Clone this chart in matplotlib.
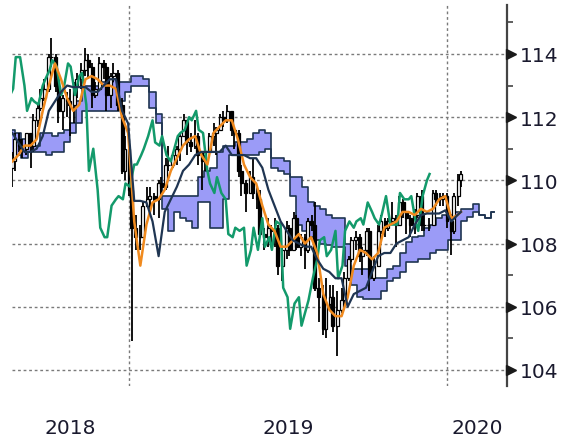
import numpy as np
import pandas as pd
import matplotlib.pyplot as plt
import matplotlib.dates as mdates

# USD/JPY, one candle every 3rd business day from 2018-08-20
close = [110.6, 111.3, 111.1, 111.0, 111.5, 111.1, 111.9, 112.3, 112.6, 112.9,
         113.9, 113.9, 113.0, 112.2, 112.6, 112.5, 112.4, 113.0, 113.2, 113.5,
         113.8, 113.6, 112.7, 112.9, 113.7, 113.6, 112.7, 113.3, 113.4, 112.4,
         110.3, 111.0, 109.7, 108.5, 108.2, 108.2, 109.2, 109.4, 109.5, 109.4,
         109.9, 109.8, 110.5, 110.5, 110.8, 111.0, 111.4, 111.9, 111.2, 111.1,
         111.4, 110.8, 110.6, 110.9, 111.4, 111.5, 111.6, 112.0, 111.9, 112.2,
         111.6, 111.5, 110.3, 109.9, 109.6, 110.1, 109.6, 109.4, 108.3, 108.2,
         108.5, 108.4, 108.5, 107.3, 107.8, 108.5, 107.8, 108.8, 107.9, 108.2,
         107.8, 108.7, 108.6, 106.6, 106.3, 105.3, 106.1, 106.3, 105.4, 105.9,
         106.2, 106.9, 107.5, 108.1, 108.2, 107.6, 107.8, 108.4, 106.9, 107.3,
         108.4, 108.7, 108.5, 108.7, 108.8, 108.6, 109.3, 109.0, 108.8, 108.6,
         108.9, 109.5, 108.6, 108.6, 108.6, 109.6, 109.4, 109.4, 109.5, 108.7,
         108.4, 109.5, 110.0, 110.2]
high = [110.9, 111.5, 111.5, 111.3, 111.5, 111.3, 112.1, 112.4, 112.9, 113.2,
        114.0, 114.5, 114.0, 113.2, 112.7, 112.8, 112.9, 113.1, 113.4, 113.7,
        114.2, 114.0, 113.7, 113.1, 113.9, 113.8, 113.7, 113.4, 113.7, 113.5,
        112.6, 111.4, 111.2, 110.0, 108.9, 108.6, 109.3, 109.8, 109.8, 109.6,
        110.0, 110.1, 110.7, 111.1, 110.9, 111.1, 111.5, 112.1, 111.9, 111.5,
        111.9, 111.5, 110.9, 111.0, 111.5, 111.8, 111.7, 112.1, 112.2, 112.4,
        112.2, 111.7, 111.6, 110.5, 110.0, 110.3, 110.7, 109.8, 109.7, 108.5,
        108.8, 108.6, 108.8, 108.6, 107.9, 108.7, 108.6, 109.0, 108.9, 108.3,
        108.3, 108.8, 108.9, 109.3, 106.9, 106.7, 106.9, 106.7, 106.7, 106.5,
        106.6, 107.1, 107.6, 108.2, 108.4, 108.3, 107.9, 108.5, 108.5, 107.6,
        108.6, 108.9, 108.8, 108.8, 109.3, 108.9, 109.5, 109.4, 109.0, 108.9,
        109.1, 109.6, 109.7, 108.9, 108.8, 109.7, 109.7, 109.6, 109.6, 109.6,
        108.8, 109.6, 110.2, 110.3]
low = [109.8, 110.3, 110.9, 110.7, 110.8, 110.4, 110.9, 111.7, 112.2, 112.5,
       112.8, 113.6, 112.8, 111.8, 111.6, 112.0, 111.4, 111.8, 112.6, 112.9,
       113.3, 113.2, 112.3, 112.6, 112.9, 113.2, 112.2, 112.3, 113.1, 112.2,
       110.2, 110.0, 109.5, 104.9, 107.8, 107.8, 108.2, 109.2, 109.1, 108.9,
       108.8, 109.5, 109.7, 110.3, 110.4, 110.5, 110.6, 111.4, 110.8, 110.9,
       111.0, 110.5, 109.7, 110.3, 110.9, 111.1, 110.8, 111.6, 111.7, 111.8,
       111.4, 111.0, 110.1, 109.5, 109.0, 109.6, 109.4, 109.1, 108.3, 107.8,
       107.9, 108.0, 107.9, 107.0, 106.8, 107.5, 107.6, 107.8, 107.8, 107.6,
       107.2, 107.7, 108.4, 106.5, 105.5, 105.1, 105.0, 105.9, 105.2, 104.45,
       105.8, 105.9, 106.8, 107.4, 107.8, 107.4, 107.0, 107.6, 106.5, 106.8,
       107.3, 108.3, 108.2, 108.4, 108.6, 107.9, 108.6, 108.8, 108.3, 108.2,
       108.3, 108.8, 108.4, 108.4, 108.4, 108.6, 109.2, 109.2, 109.2, 108.5,
       107.65, 108.3, 109.2, 109.8]
first_open = 110.4

# weekly readings (Mondays from 2018-08-20), last one on 2020-01-17
tenkan = [110.6, 110.8, 111.1, 111.1, 111.3, 112.2, 113.0, 113.7, 113.2, 112.6,
          112.2, 112.4, 113.2, 113.3, 113.2, 113.0, 113.0, 112.9, 112.0, 111.5,
          108.7, 107.3, 108.6, 109.3, 109.4, 109.7, 110.3, 110.7, 111.1, 111.3,
          111.4, 110.8, 110.5, 111.5, 111.7, 111.9, 111.9, 111.3, 110.5, 110.1,
          109.9, 109.2, 108.6, 108.4, 107.9, 107.9, 108.1, 108.3, 108.0, 108.2,
          107.7, 106.4, 105.9, 105.7, 105.7, 106.3, 107.3, 107.8, 107.7, 107.5,
          107.7, 108.5, 108.6, 108.7, 109.0, 109.0, 108.9, 109.1, 109.0, 109.1,
          109.4, 109.5, 108.8, 108.9, 109.0]
kijun = [111.5, 111.2, 110.9, 110.9, 111.0, 111.4, 112.2, 112.5, 112.8, 113.0,
         112.95, 112.95, 112.95, 112.8, 112.8, 113.0, 113.2, 113.2, 112.2, 111.8,
         109.35, 109.35, 109.3, 108.7, 107.6, 109.0, 109.4, 109.8, 110.3, 110.5,
         110.8, 110.9, 110.9, 110.9, 110.9, 111.1, 110.8, 110.8, 110.8, 110.7,
         110.7, 110.4, 109.7, 109.2, 108.7, 108.4, 108.1, 108.0, 107.9, 107.9,
         107.5, 107.2, 107.1, 106.9, 106.9, 106.0, 106.4, 106.5, 106.6, 107.1,
         107.6, 107.7, 107.7, 108.0, 108.1, 108.2, 108.6, 108.9, 108.95, 108.95,
         108.95, 109.05, 108.7, 108.9, 109.0]

# cloud edges, weekly (Mondays from 2018-08-20), already shifted forward
span_a = [111.6, 111.5, 111.3, 111.2, 111.1, 111.5, 111.5, 111.4, 111.5, 111.6,
          111.8, 112.5, 113.0, 113.0, 113.0, 113.1, 113.1, 113.2, 113.1, 113.1,
          113.3, 113.3, 113.2, 112.8, 112.1, 109.5, 109.5, 109.5, 109.5, 109.5,
          109.5, 110.1, 110.3, 110.4, 110.9, 111.1, 111.1, 111.2, 111.2, 111.3,
          111.5, 111.6, 111.5, 110.7, 110.7, 110.6, 110.1, 110.1, 109.8, 109.3,
          109.2, 109.1, 108.9, 108.8, 108.8, 108.0, 107.2, 107.2, 107.2, 107.0,
          106.9, 106.9, 107.2, 107.3, 107.7, 108.05, 108.2, 108.25, 108.5, 108.6,
          108.8, 108.9, 108.9, 109.0, 109.1, 109.1, 109.25, 108.9, 108.8, 109.0]
span_b = [110.8, 110.8, 110.7, 110.9, 110.9, 110.9, 110.8, 110.9, 110.9, 111.2,
          111.5, 111.8, 112.2, 112.2, 112.2, 112.2, 112.2, 112.2, 112.5, 112.8,
          113.0, 113.0, 113.0, 112.3, 111.8, 109.1, 108.4, 109.0, 108.8, 108.7,
          108.5, 109.3, 109.3, 108.5, 108.5, 109.4, 110.8, 110.8, 110.8, 110.8,
          110.8, 110.9, 111.0, 110.4, 110.3, 110.2, 109.5, 108.6, 108.4, 108.2,
          108.1, 108.0, 107.95, 107.9, 107.9, 107.3, 106.7, 106.3, 106.25, 106.25,
          106.25, 106.5, 106.8, 106.9, 107.1, 107.4, 107.4, 107.5, 107.5, 107.7,
          107.8, 107.8, 108.1, 108.1, 108.7, 108.85, 109.0, 108.9, 108.8, 109.0]

y_ticks = [104, 106, 108, 110, 112, 114]
year_labels = ['2018', '2019', '2020']

# dates
price_dates = pd.date_range('2018-08-20', periods=len(close), freq='3B')
chikou_dates = price_dates - pd.offsets.BDay(26)
line_dates = list(pd.date_range('2018-08-20', periods=len(tenkan) - 1, freq='5B')) + [pd.Timestamp('2020-01-17')]
cloud_dates = pd.date_range('2018-08-20', periods=len(span_a), freq='5B')

NAVY = '#1f3552'
TXT = '#1a1a2e'

fig = plt.figure(figsize=(5.61, 4.39), dpi=100)
ax = fig.add_axes([12 / 561, 1 - 387 / 439, 495 / 561, 381 / 439])

# cloud
cx = mdates.date2num(cloud_dates)
ax.fill_between(cx, span_a, span_b, step='mid', color='#9b9bf7', lw=0, zorder=1)
ax.plot(cx, span_a, drawstyle='steps-mid', color=NAVY, lw=1.2, zorder=2)
ax.plot(cx, span_b, drawstyle='steps-mid', color=NAVY, lw=1.2, zorder=2)

# candles
px = mdates.date2num(price_dates)
c = np.array(close)
o = np.r_[first_open, c[:-1]]
up = c >= o
ax.vlines(px, low, high, color='black', lw=1.3, zorder=3)
ax.bar(px[up], (c - o)[up], bottom=o[up], width=3.4, color='white',
       edgecolor='black', lw=0.9, zorder=4)
ax.bar(px[~up], (c - o)[~up], bottom=o[~up], width=3.4, color='black',
       edgecolor='black', lw=0.9, zorder=4)

# chikou, tenkan, kijun
ax.plot(mdates.date2num(chikou_dates), close, color='#139a6b', lw=1.8, zorder=5)
lx = mdates.date2num(line_dates)
ax.plot(lx, tenkan, color='#f08a1e', lw=1.8, zorder=6)
ax.plot(lx, kijun, color=NAVY, lw=1.6, zorder=7)

# limits
jan19 = mdates.date2num(pd.Timestamp('2019-01-01'))
jan20 = mdates.date2num(pd.Timestamp('2020-01-01'))
px_per_day = (447 - 129) / 365.0
x_left = jan19 - (129 - 12) / px_per_day
x_right = jan19 + (507 - 129) / px_per_day
ax.set_xlim(x_left, x_right)
ax.set_ylim(103.49, 115.55)

# grid
grid_kw = dict(color='#7a7a7a', lw=1.0, ls=(0, (2, 2)), zorder=0)
for yv in y_ticks:
    ax.axhline(yv, **grid_kw)
ax.axvline(jan19, **grid_kw)
ax.axvline(jan20, **grid_kw)

# spines / ticks
for s in ['left', 'top', 'bottom']:
    ax.spines[s].set_visible(False)
ax.spines['right'].set_color('#444444')
ax.spines['right'].set_linewidth(1.6)
ax.set_xticks([])
ax.yaxis.tick_right()
ax.set_yticks(y_ticks)
ax.set_yticklabels([str(t) for t in y_ticks])
ax.set_yticks(np.arange(105, 116, 2), minor=True)
ax.tick_params(axis='y', which='major', length=0, pad=9, labelsize=14.5, labelcolor=TXT)
ax.tick_params(axis='y', which='minor', length=4, width=1.2, color='#444444', direction='out')
ax.plot(np.full(len(y_ticks), 1.009), y_ticks, ls='none', marker='>', ms=7,
        color='#1a1a1a', transform=ax.get_yaxis_transform(), clip_on=False, zorder=10)

# year labels
xt = ax.get_xaxis_transform()
year_pos = [(x_left + jan19) / 2, (jan19 + jan20) / 2, (jan20 + x_right) / 2]
for xp, lab in zip(year_pos, year_labels):
    ax.text(xp, -0.108, lab, transform=xt, ha='center', va='center',
            fontsize=14.5, color=TXT)

fig.savefig('out.png', dpi=100)
